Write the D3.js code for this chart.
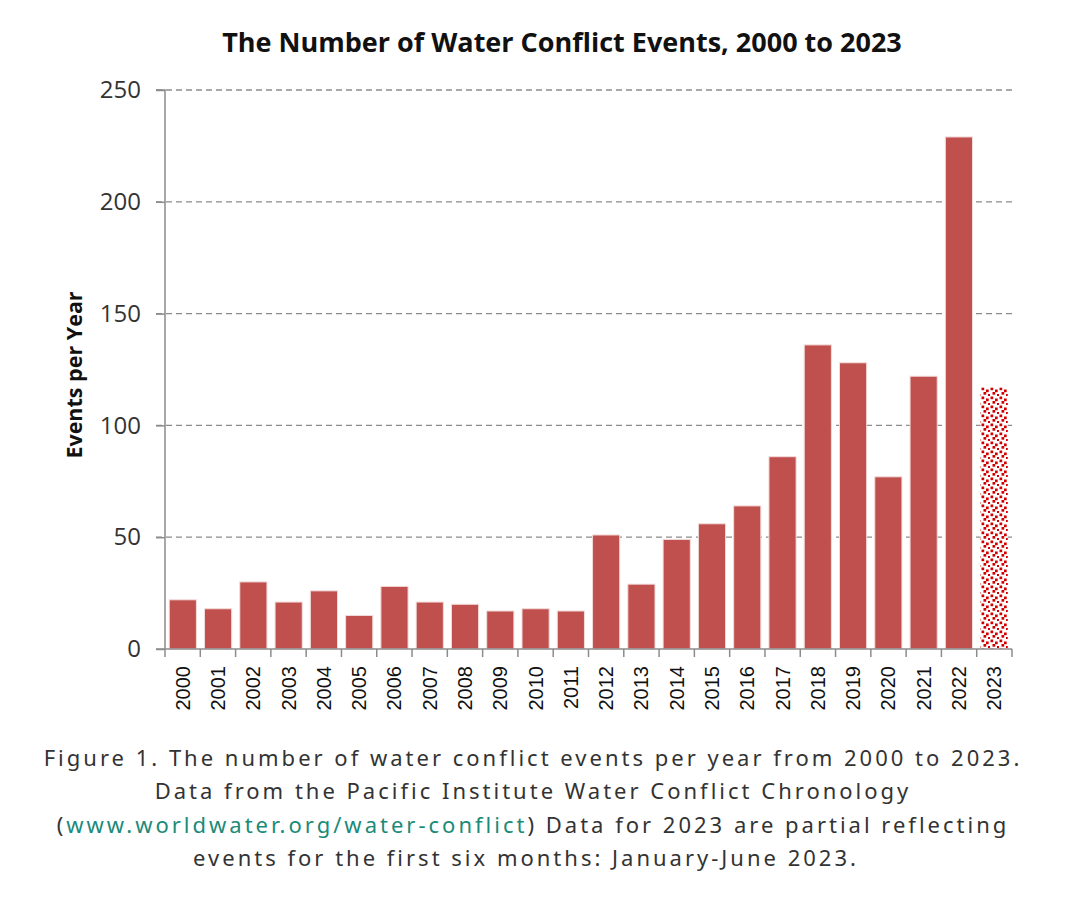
<!DOCTYPE html>
<html><head><meta charset="utf-8">
<script src="https://cdn.jsdelivr.net/npm/d3@7"></script>
<style>
body{margin:0;background:#fff;}
svg{display:block;}
</style></head>
<body>
<svg id="chart" width="1087" height="902"></svg>
<script>
const years = ["2000","2001","2002","2003","2004","2005","2006","2007","2008","2009","2010","2011","2012","2013","2014","2015","2016","2017","2018","2019","2020","2021","2022","2023"];
const events = [22,18,30,21,26,15,28,21,20,17,18,17,51,29,49,56,64,86,136,128,77,122,229,117];
const partialYears = ["2023"];
const yTicks = [0,50,100,150,200,250];
const titleText = "The Number of Water Conflict Events, 2000 to 2023";
const yTitle = "Events per Year";

const svg = d3.select("#chart");
const M = {left:165, right:1012, top:90, bottom:649};

const defs = svg.append("defs");
const pat = defs.append("pattern").attr("id","dots").attr("patternUnits","userSpaceOnUse")
  .attr("width",9).attr("height",9);
pat.append("rect").attr("width",9).attr("height",9).attr("fill","#fff");
[[0.5,0.5],[5,2.5],[2.5,5],[7,7]].forEach(p=>pat.append("rect").attr("x",p[0]).attr("y",p[1]).attr("width",2.7).attr("height",2.7).attr("fill","#d00000"));

const x = d3.scaleBand().domain(years).range([M.left, M.right]).paddingInner(0.23).paddingOuter(0.12);
const y = d3.scaleLinear().domain([0,250]).range([M.bottom, M.top]);

// gridlines
svg.append("g").selectAll("line").data(yTicks.filter(d=>d>0)).join("line")
  .attr("x1",M.left-9).attr("x2",M.right).attr("y1",d=>y(d)).attr("y2",d=>y(d))
  .attr("stroke","#8c8c8c").attr("stroke-width",1.3).attr("stroke-dasharray","6,4");

// bars
svg.append("g").selectAll("rect").data(years).join("rect")
  .attr("x",d=>x(d)).attr("width",x.bandwidth())
  .attr("y",(d,i)=>y(events[i])).attr("height",(d,i)=>y(0)-y(events[i]))
  .attr("fill",d=>partialYears.includes(d)?"url(#dots)":"#c0504d")
  .attr("stroke",d=>partialYears.includes(d)?"none":"#f2dcdb").attr("stroke-width",1);

// y axis
const yAxis = d3.axisLeft(y).tickValues(yTicks).tickSize(9).tickPadding(15);
const gy = svg.append("g").attr("transform",`translate(${M.left},0)`).call(yAxis);
gy.select(".domain").attr("stroke","#8c8c8c").attr("stroke-width",1.5).attr("d",`M-9,${M.top}H0V${M.bottom}`);
gy.selectAll(".tick line").attr("stroke","#8c8c8c").attr("stroke-width",1.5);
gy.selectAll(".tick text").attr("font-family","Open Sans, Liberation Sans, sans-serif").attr("font-size",24).attr("fill","#333");

// x axis
const xb = d3.scaleBand().domain(years).range([M.left,M.right]);
const gx = svg.append("g").attr("transform",`translate(0,${M.bottom})`);
gx.append("line").attr("x1",M.left-9).attr("x2",M.right).attr("stroke","#8c8c8c").attr("stroke-width",1.5);
gx.selectAll("line.t").data(years.concat(["end"])).join("line").attr("class","t")
  .attr("x1",(d,i)=>M.left+i*xb.bandwidth()).attr("x2",(d,i)=>M.left+i*xb.bandwidth())
  .attr("y1",0).attr("y2",8).attr("stroke","#8c8c8c").attr("stroke-width",1.5);
gx.selectAll("text").data(years).join("text")
  .attr("transform",d=>`translate(${x(d)+x.bandwidth()/2+7},${17}) rotate(-90)`)
  .attr("text-anchor","end").attr("font-family","Liberation Sans, Arial, sans-serif")
  .attr("font-size",20).attr("fill","#111").text(d=>d);

// title
svg.append("text").attr("x",562).attr("y",52).attr("text-anchor","middle")
  .attr("font-family","Open Sans, Liberation Sans, sans-serif").attr("font-weight","bold")
  .attr("font-size",27).attr("fill","#111").text(titleText);

// y title
svg.append("text").attr("transform","translate(82,375) rotate(-90)").attr("text-anchor","middle")
  .attr("font-family","Open Sans, Liberation Sans, sans-serif").attr("font-weight","bold")
  .attr("font-size",21.5).attr("fill","#111").text(yTitle);

// caption
const cap = svg.append("g").attr("font-family","Noto Sans, sans-serif").attr("font-size",22).attr("fill","#333").attr("text-anchor","middle").attr("letter-spacing","3px");
cap.append("text").attr("x",533).attr("y",766).text("Figure 1. The number of water conflict events per year from 2000 to 2023.");
cap.append("text").attr("x",533).attr("y",799).text("Data from the Pacific Institute Water Conflict Chronology");
const l3 = cap.append("text").attr("x",533).attr("y",833);
l3.append("tspan").text("(");
l3.append("tspan").attr("fill","#1b8a78").text("www.worldwater.org/water-conflict");
l3.append("tspan").text(") Data for 2023 are partial reflecting");
cap.append("text").attr("x",526).attr("y",866).text("events for the first six months: January-June 2023.");
</script>
</body></html>
